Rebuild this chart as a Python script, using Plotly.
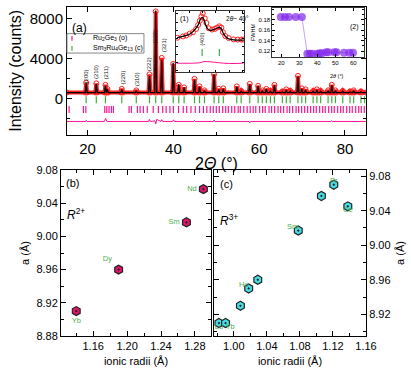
import plotly.graph_objects as go

# ---- panel (a): XRD pattern -------------------------------------------
x_range = [15.2, 84.9]
peak_pos = [19.67, 22.03, 24.16, 24.6, 27.97, 31.35, 34.43, 35.88, 37.28, 39.96,
            41.25, 42.50, 44.92, 46.09, 47.24, 49.48, 50.57, 51.64, 54.78, 55.80,
            57.80, 59.75, 60.72, 61.67, 62.62, 63.55, 65.40, 66.32, 67.23, 69.04,
            69.93, 70.82, 72.58, 73.45, 74.33, 76.06, 76.92, 77.78, 79.48, 81.18,
            82.03, 83.72]
peak_calc = [1550, 1500, 1300, 950, 950, 800, 2300, 8850, 3900, 3600,
             1450, 1150, 1900, 1200, 800, 2450, 950, 1000, 1200, 750,
             1450, 1300, 800, 1000, 750, 1350, 700, 900, 750, 2200,
             1000, 900, 750, 900, 750, 800, 1350, 800, 750, 700,
             800, 700]
peak_obs = [1600, 1550, 1400, 1000, 1000, 850, 2450, 8750, 4100, 3500,
            1400, 1150, 2000, 1250, 850, 2450, 1000, 1050, 1250, 800,
            1500, 1300, 850, 1000, 800, 1400, 750, 950, 800, 2300,
            1050, 950, 800, 950, 800, 850, 1400, 850, 800, 750,
            850, 750]
base_calc = 620
base_obs = 640

hkl_labels = ["(200)", "(210)", "(211)", "(220)", "(310)", "(222)", "(320)", "(321)"]
hkl_x = [19.6, 22.0, 24.2, 28.3, 31.5, 34.4, 35.7, 37.9]
hkl_y = [2230, 2700, 2600, 2150, 1950, 3500, 6200, 5400]

sm_ticks = [19.67, 22.03, 24.16, 27.97, 31.35, 34.43, 35.88, 37.28, 39.96, 41.25,
            42.50, 44.92, 46.09, 47.24, 49.48, 50.57, 51.64, 54.78, 55.80, 57.80,
            59.75, 60.72, 61.67, 62.62, 63.55, 65.40, 66.32, 67.23, 69.04, 69.93,
            70.82, 72.58, 73.45, 74.33, 76.06, 76.92, 77.78, 79.48, 81.18, 82.03,
            83.72, 84.56]
ru_ticks = [15.69, 19.02, 19.58, 24.0, 24.47, 25.0, 25.55, 26.01, 29.67, 30.2,
            31.6, 32.24, 33.0, 33.9, 35.3, 36.5, 37.5, 38.3, 39.2, 40.0,
            41.2, 42.3, 43.1, 44.1, 45.1, 46.1, 47.0, 47.8, 48.6, 49.3,
            50.0, 50.7, 51.5, 52.2, 52.8, 53.6, 54.3, 55.1, 55.6, 56.4,
            57.2, 57.9, 58.6, 59.2, 60.1, 60.8, 61.4, 62.3, 62.9, 63.6,
            64.4, 65.0, 65.7, 66.5, 67.1, 67.8, 68.6, 69.2, 69.9, 70.6,
            71.3, 72.0, 72.7, 73.3, 74.1, 74.8, 75.4, 76.2, 76.9, 77.5,
            78.3, 79.0, 79.6, 80.4, 81.1, 81.7, 82.5, 83.2, 83.8, 84.5]
sm_tick_level = -100
ru_tick_level = -1070

diff_x = [15.2, 19.5, 19.7, 19.9, 23.9, 24.2, 24.5, 34.2, 34.4, 34.6, 35.7, 35.9,
          36.1, 37.1, 37.3, 37.5, 39.8, 40.0, 40.2, 44.7, 44.9, 45.1, 49.3, 49.5,
          49.7, 54.6, 54.8, 55.0, 57.6, 57.8, 58.0, 68.8, 69.0, 69.2, 76.7, 76.9,
          77.1, 84.9]
diff_y = [-2260, -2260, -2150, -2260, -2260, -1950, -2260, -2260, -2050, -2260,
          -2200, -2500, -2050, -2260, -2080, -2260, -2260, -2100, -2260, -2260,
          -2150, -2260, -2260, -2120, -2260, -2260, -2200, -2260, -2260, -2400,
          -2260, -2260, -2150, -2260, -2260, -2180, -2260, -2260]

legend_names = ["Ru<sub>2</sub>Ge<sub>3</sub> (o)",
                "Sm<sub>3</sub>Ru<sub>4</sub>Ge<sub>13</sub> (c)"]

# ---- inset (1): zoom near 2theta ~ 40 -----------------------------------
ins1_calc_x = [38.09, 38.59, 39.08, 39.46, 39.70, 39.83, 39.96, 40.08, 40.20, 40.38,
               40.58, 40.82, 41.08, 41.25, 41.40, 41.57, 41.82, 42.20, 42.57, 43.06]
ins1_calc_y = [534, 634, 775, 1076, 1378, 1680, 1780, 1680, 1378, 1076,
               976, 1036, 1117, 1177, 1076, 775, 514, 413, 390, 390]
ins1_obs_x = [38.11, 38.52, 38.77, 39.02, 39.27, 39.51, 39.66, 39.79, 39.91, 40.01,
              40.16, 40.28, 40.46, 40.71, 40.91, 41.08, 41.25, 41.40, 41.52, 41.70,
              41.95, 42.32, 42.62, 42.90, 43.06]
ins1_obs_y = [534, 614, 674, 775, 875, 1076, 1318, 1579, 1840, 2041,
              1720, 1438, 1117, 1036, 1076, 1157, 1237, 1157, 875, 634,
              514, 433, 420, 420, 420]
ins1_ticks = [39.96, 41.25]
ins1_diff_x = [38.05, 39.3, 39.8, 40.1, 40.6, 41.2, 42.0, 43.05]
ins1_diff_y = [-1030, -1030, -1000, -930, -950, -1000, -1050, -1030]

# ---- inset (2): FWHM ---------------------------------------------------
fwhm_x = [19.7, 22.0, 24.2, 28.0, 31.4, 34.4, 35.9, 37.3, 40.0, 41.3, 42.5,
          44.9, 46.1, 49.5, 50.6, 54.8, 57.8, 59.8]
fwhm_y = [0.185, 0.185, 0.185, 0.185, 0.185, 0.115, 0.115, 0.115, 0.115, 0.116,
          0.116, 0.118, 0.118, 0.118, 0.118, 0.117, 0.117, 0.117]

# ---- panels (b) and (c): lattice parameter vs ionic radius -------------
r2_names = ["Yb", "Dy", "Sm", "Nd"]
r2_radius = [1.14, 1.19, 1.27, 1.29]
r2_a = [8.910, 8.960, 9.017, 9.057]
r2_textpos = ["bottom center", "top left", "middle left", "middle left"]

r3_radius = [0.982, 0.990, 1.008, 1.018, 1.029, 1.078, 1.106, 1.121, 1.138]
r3_a = [8.910, 8.910, 8.930, 8.950, 8.960, 9.017, 9.057, 9.070, 9.045]
r3_lab_names = ["Lu", "Yb", "Ho", "Sm", "Pr", "Ce"]
r3_lab_radius = [0.982, 0.990, 1.018, 1.078, 1.121, 1.138]
r3_lab_a = [8.910, 8.910, 8.950, 9.017, 9.070, 9.045]
r3_textpos = ["bottom center", "bottom right", "top left", "top left",
              "top center", "bottom center"]

FONT = "Liberation Sans, Arial, sans-serif"
RED = "#ff1f1f"
PINK = "#ff1493"
GREEN = "#3dae3d"
LABEL_GREEN = "#4caf50"


def profile(heights, base, w=0.22):
    xs, ys = [x_range[0]], [base]
    for p, h in zip(peak_pos, heights):
        xs += [p - w, p, p + w]
        ys += [base, h, base]
    xs.append(x_range[1])
    ys.append(base)
    return xs, ys


obs_x, obs_y = profile(peak_obs, base_obs)
calc_x, calc_y = profile(peak_calc, base_calc)

fig = go.Figure()

fig.add_trace(go.Scatter(
    x=ru_ticks, y=[ru_tick_level] * len(ru_ticks), mode="markers",
    name=legend_names[0], showlegend=False,
    marker=dict(symbol="line-ns", size=5, line=dict(color=PINK, width=1.2)),
))
fig.add_trace(go.Scatter(
    x=sm_ticks, y=[sm_tick_level] * len(sm_ticks), mode="markers",
    name=legend_names[1], showlegend=False,
    marker=dict(symbol="line-ns", size=5, line=dict(color=GREEN, width=1.2)),
))
fig.add_trace(go.Scatter(
    x=obs_x, y=obs_y, mode="lines+markers", showlegend=False,
    line=dict(color=RED, width=4),
    marker=dict(symbol="circle-open", size=5, color=RED, line=dict(width=1)),
))
fig.add_trace(go.Scatter(
    x=calc_x, y=calc_y, mode="lines", showlegend=False,
    line=dict(color="black", width=1.3),
))
fig.add_trace(go.Scatter(
    x=diff_x, y=diff_y, mode="lines", showlegend=False,
    line=dict(color=PINK, width=1),
))

# (b)
fig.add_trace(go.Scatter(
    x=r2_radius, y=r2_a, text=r2_names, mode="markers+text", textposition=r2_textpos,
    textfont=dict(size=7.5, color=LABEL_GREEN), showlegend=False,
    marker=dict(symbol="hexagon-dot", size=9, color="#e0156a",
                line=dict(color="#222", width=1.2)),
    xaxis="x2", yaxis="y2",
))
# (c)
fig.add_trace(go.Scatter(
    x=r3_radius, y=r3_a, mode="markers", showlegend=False,
    marker=dict(symbol="hexagon-dot", size=9, color="#46dde6",
                line=dict(color="#222", width=1.2)),
    xaxis="x3", yaxis="y3",
))
fig.add_trace(go.Scatter(
    x=r3_lab_radius, y=r3_lab_a, text=r3_lab_names, mode="text",
    textposition=r3_textpos, showlegend=False,
    textfont=dict(size=7.5, color=LABEL_GREEN),
    xaxis="x3", yaxis="y3",
))

# inset (1)
fig.add_trace(go.Scatter(
    x=ins1_obs_x, y=ins1_obs_y, mode="markers", showlegend=False,
    marker=dict(symbol="circle-open", size=5, color=RED, line=dict(width=1)),
    xaxis="x4", yaxis="y4",
))
fig.add_trace(go.Scatter(
    x=ins1_calc_x, y=ins1_calc_y, mode="lines", showlegend=False,
    line=dict(color="black", width=1.3, shape="spline"),
    xaxis="x4", yaxis="y4",
))
fig.add_trace(go.Scatter(
    x=ins1_ticks, y=[-380] * len(ins1_ticks), mode="markers", showlegend=False,
    marker=dict(symbol="line-ns", size=5, line=dict(color=GREEN, width=1.2)),
    xaxis="x4", yaxis="y4",
))
fig.add_trace(go.Scatter(
    x=ins1_diff_x, y=ins1_diff_y, mode="lines", showlegend=False,
    line=dict(color=PINK, width=1, shape="spline"),
    xaxis="x4", yaxis="y4",
))

# inset (2)
fig.add_trace(go.Scatter(
    x=fwhm_x, y=fwhm_y, mode="lines+markers", showlegend=False,
    line=dict(color="#c9a3f5", width=1),
    marker=dict(size=8, color="rgba(130,40,235,0.7)"),
    xaxis="x5", yaxis="y5",
))

axis_common = dict(showline=True, linecolor="black", linewidth=1, mirror="ticks",
                   ticks="inside", tickcolor="black", showgrid=False, zeroline=False)

annotations = [
    dict(text=t, x=x, y=y, xref="x", yref="y", textangle=-90, showarrow=False,
         font=dict(size=6, color="#222"))
    for t, x, y in zip(hkl_labels, hkl_x, hkl_y)
]
annotations += [
    dict(text="(a)", x=0.029, y=0.965, xref="paper", yref="paper", xanchor="left",
         showarrow=False, font=dict(size=12)),
    dict(text="(400)", x=39.96, y=430, xref="x4", yref="y4", textangle=-90,
         showarrow=False, font=dict(size=5.5, color="#222")),
    dict(text="(1)", x=0.385, y=0.982, xref="paper", yref="paper", xanchor="left",
         showarrow=False, font=dict(size=7)),
    dict(text="2<i>θ</i>~ 40°", x=0.534, y=0.982, xref="paper", yref="paper",
         xanchor="left", showarrow=False, font=dict(size=6.5)),
    dict(text="(2)", x=0.985, y=0.958, xref="paper", yref="paper", xanchor="right",
         showarrow=False, font=dict(size=7)),
    dict(text="2<i>θ</i> (°)", x=0.934, y=0.806, xref="paper", yref="paper",
         showarrow=False, font=dict(size=5.5)),
    dict(text="(b)", x=0.01, y=0.466, xref="paper", yref="paper", xanchor="left",
         showarrow=False, font=dict(size=11)),
    dict(text="<i>R</i><sup>2+</sup>", x=0.012, y=0.37, xref="paper", yref="paper",
         xanchor="left", showarrow=False, font=dict(size=12)),
    dict(text="(c)", x=0.515, y=0.463, xref="paper", yref="paper", xanchor="left",
         showarrow=False, font=dict(size=11)),
    dict(text="<i>R</i><sup>3+</sup>", x=0.515, y=0.352, xref="paper", yref="paper",
         xanchor="left", showarrow=False, font=dict(size=12)),
]

# hand-made legend box (plotly's own legend rows are too tall at this size)
leg_rows_y = [0.9045, 0.8743]
leg_colors = [PINK, GREEN]
shapes = [dict(type="rect", xref="paper", yref="paper", x0=0.0197, x1=0.272,
               y0=0.860, y1=0.919, fillcolor="white",
               line=dict(color="#888", width=1))]
for name, yy, col in zip(legend_names, leg_rows_y, leg_colors):
    shapes.append(dict(type="line", xref="paper", yref="paper", x0=0.036, x1=0.036,
                       y0=yy - 0.007, y1=yy + 0.007, line=dict(color=col, width=1.2)))
    annotations.append(dict(text=name, x=0.098, y=yy, xref="paper", yref="paper",
                            xanchor="left", yanchor="middle", showarrow=False,
                            font=dict(size=7)))

fig.update_layout(
    width=411, height=372,
    margin=dict(l=61, r=45, t=1, b=36),
    paper_bgcolor="white", plot_bgcolor="white",
    font=dict(family=FONT, color="black"),
    showlegend=False,
    xaxis=dict(axis_common, domain=[0.0197, 1], range=x_range, anchor="y",
               tickvals=[20, 40, 60, 80], ticklen=5,
               minor=dict(dtick=10, tick0=10, ticklen=3, ticks="inside"),
               tickfont=dict(size=15),
               title=dict(text="2<i>Θ</i> (°)", font=dict(size=16), standoff=2)),
    yaxis=dict(axis_common, domain=[0.612, 1], range=[-3580, 9190], anchor="x",
               tickvals=[0, 4000, 8000], ticklen=5,
               minor=dict(dtick=2000, ticklen=3, ticks="inside"),
               tickfont=dict(size=15),
               title=dict(text="Intensity (counts)", font=dict(size=16), standoff=4)),
    xaxis2=dict(axis_common, domain=[0, 0.4918], range=[1.122, 1.299], anchor="y2",
                tickvals=[1.16, 1.20, 1.24, 1.28], tickformat=".2f", ticklen=5,
                minor=dict(dtick=0.02, tick0=1.12, ticklen=3, ticks="inside"),
                tickfont=dict(size=11),
                title=dict(text="ionic radii (Å)", font=dict(size=11), standoff=6)),
    yaxis2=dict(axis_common, domain=[0, 0.5045], range=[8.88, 9.08], anchor="x2",
                tickvals=[8.88, 8.92, 8.96, 9.00, 9.04, 9.08], tickformat=".2f",
                ticklen=5, minor=dict(dtick=0.02, tick0=8.88, ticklen=3, ticks="inside"),
                tickfont=dict(size=11),
                title=dict(text="a (Å)", font=dict(size=11), standoff=4)),
    xaxis3=dict(axis_common, domain=[0.5016, 1], range=[0.976, 1.16], anchor="y3",
                tickvals=[1.00, 1.04, 1.08, 1.12, 1.16], tickformat=".2f", ticklen=5,
                minor=dict(dtick=0.02, tick0=0.98, ticklen=3, ticks="inside"),
                tickfont=dict(size=11),
                title=dict(text="ionic radii (Å)", font=dict(size=11), standoff=6)),
    yaxis3=dict(axis_common, domain=[0, 0.5045], range=[8.895, 9.087], anchor="x3",
                side="right", tickvals=[8.92, 8.96, 9.00, 9.04, 9.08], tickformat=".2f",
                ticklen=5, minor=dict(dtick=0.02, tick0=8.90, ticklen=3, ticks="inside"),
                tickfont=dict(size=11),
                title=dict(text="a (Å)", font=dict(size=11), standoff=6)),
    xaxis4=dict(axis_common, domain=[0.377, 0.600], range=[38.0, 43.1], anchor="y4",
                showticklabels=False, dtick=1, ticklen=2, linecolor="#333"),
    yaxis4=dict(axis_common, domain=[0.801, 0.989], range=[-1600, 2200], anchor="x4",
                showticklabels=False, dtick=500, ticklen=2, linecolor="#333"),
    xaxis5=dict(axis_common, domain=[0.693, 0.994], range=[15, 66], anchor="y5",
                tickvals=[20, 30, 40, 50, 60], ticklen=3, linecolor="#333",
                tickfont=dict(size=6)),
    yaxis5=dict(axis_common, domain=[0.848, 0.997], range=[0.109, 0.202], anchor="x5",
                tickvals=[0.12, 0.14, 0.16, 0.18], tickformat=".2f", ticklen=3,
                minor=dict(dtick=0.01, tick0=0.11, ticklen=2, ticks="inside"),
                linecolor="#333", tickfont=dict(size=6),
                title=dict(text="FWHM", font=dict(size=5.5), standoff=2)),
    annotations=annotations,
    shapes=shapes,
)

# the page is photographed at exactly 411x372: pin the graph to the top-left corner
pin = ("document.body.style.margin = '0';"
       "var gd = document.getElementById('{plot_id}');"
       "gd.style.position = 'absolute'; gd.style.left = '0'; gd.style.top = '0';")
fig.write_html("out.html", config={"displayModeBar": False}, post_script=pin)
